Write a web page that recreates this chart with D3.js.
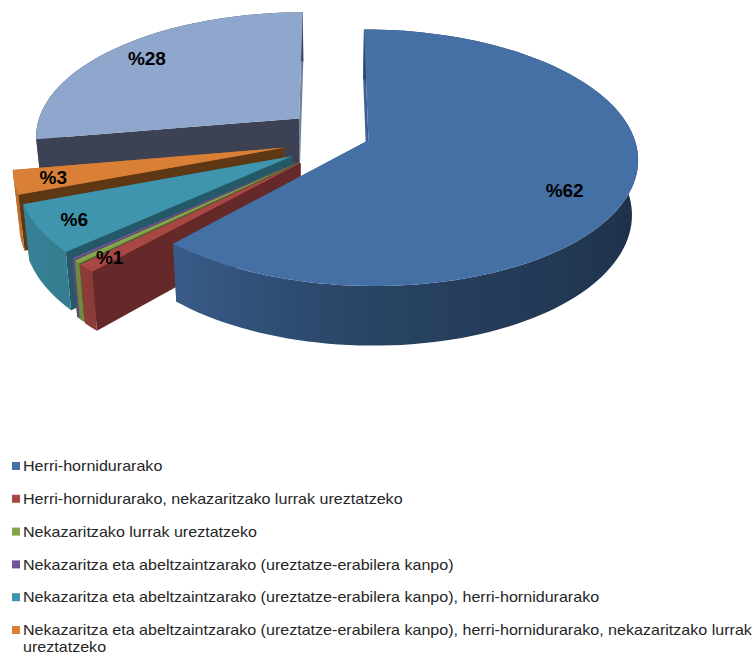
<!DOCTYPE html>
<html>
<head>
<meta charset="utf-8">
<script src="https://cdn.jsdelivr.net/npm/d3@7"></script>
<style>
  html, body { margin: 0; padding: 0; background: #fff; }
  svg { display: block; }
</style>
</head>
<body>
<div id="chart"></div>
<script>
// values, in pie order (clockwise from 12 o'clock)
const shares = [62.4, 1, 0.4, 0.2, 6, 3, 28];
const valueLabels = ["%62", "%1", "", "", "%6", "%3", "%28"];
const legendNames = [
    "Herri-hornidurarako",
    "Herri-hornidurarako, nekazaritzako lurrak ureztatzeko",
    "Nekazaritzako lurrak ureztatzeko",
    "Nekazaritza eta abeltzaintzarako (ureztatze-erabilera kanpo)",
    "Nekazaritza eta abeltzaintzarako (ureztatze-erabilera kanpo), herri-hornidurarako",
    ["Nekazaritza eta abeltzaintzarako (ureztatze-erabilera kanpo), herri-hornidurarako, nekazaritzako lurrak", "ureztatzeko"]
];

const topColors = ["#4470a6", "#a84744", "#86a44a", "#6f5597", "#3f95ad", "#d98036", "#8fa6cd"];
const sideColors = ["#3a5f8f", "#652929", "#506230", "#43335b", "#245a68", "#5e3815", "#3c4254"];

const width = 756;
const height = 655;

// view of the tilted pie
const view = { cx: 330, cy: 139, a: 266, b: 125.6, persp: 0.135, depth: 54, shrink: 0.02 };
const pullX = [0.155, 0.155, 0.155, 0.155, 0.165, 0.175, 0.155];
const pullY = [0.03, 0.26, 0.26, 0.26, 0.26, 0.26, 0.26]; // the big slice barely moves up or down
const labelRadius = [0.755, 0.9, 0, 0, 0.87, 0.86, 0.83];
const labelNudgeY = [14, 0, 0, 0, 0, 0, 0];

const svg = d3.select("#chart").append("svg")
    .attr("width", width)
    .attr("height", height)
    .attr("viewBox", `0 0 ${width} ${height}`)
    .style("font-family", "'Liberation Sans', Arial, sans-serif");

const defs = svg.append("defs");

function project(x, y, z) {
    const w = 1 - view.persp * y;
    const s = 1 - view.shrink * z;
    return [
        view.cx + view.a * x / w * s,
        view.cy + view.b * y / w * s + view.depth * z / w
    ];
}

const slices = d3.pie().sort(null).value(d => d)(shares).map((d, i) => {
    const mid = (d.startAngle + d.endAngle) / 2;
    return {
        i,
        start: d.startAngle,
        end: d.endAngle,
        mid,
        ox: pullX[i] * Math.sin(mid),
        oy: -pullY[i] * Math.cos(mid)
    };
});

function onSlice(s, r, angle, z) {
    return project(s.ox + r * Math.sin(angle), s.oy - r * Math.cos(angle), z);
}

const line = d3.line();
const step = Math.PI / 90;
const toRad = Math.PI / 180;

// how far the round wall falls to black, by clock angle of the wall
const wallShade = d3.scaleLinear()
    .domain([90, 180, 223, 260])
    .range([0.62, 0.4, 0.17, 0.12])
    .clamp(true);

function arcAngles(s) {
    const n = Math.max(2, Math.ceil((s.end - s.start) / step));
    return d3.range(n + 1).map(k => s.start + (s.end - s.start) * k / n);
}

// left to right gradient along the part of the round wall we can see
function wallFill(s) {
    if (s.i === 6) return sideColors[6]; // no round wall shows on the back slice
    const seen = arcAngles(s).filter(a => a >= 90 * toRad && a <= 270 * toRad).reverse();
    const xs = seen.map(a => onSlice(s, 1, a, 0)[0]);
    const x0 = d3.min(xs);
    const x1 = d3.max(xs);
    const pos = d3.scaleLinear().domain([x0, x1]).range([0, 1]);
    const id = "wall" + s.i;
    const grad = defs.append("linearGradient")
        .attr("id", id)
        .attr("gradientUnits", "userSpaceOnUse")
        .attr("x1", x0).attr("x2", x1)
        .attr("y1", 0).attr("y2", 0);
    grad.selectAll("stop")
        .data(seen)
        .join("stop")
        .attr("offset", a => pos(onSlice(s, 1, a, 0)[0]))
        .attr("stop-color", a => d3.interpolateRgb(topColors[s.i], "#000")(wallShade(a / toRad)));
    return `url(#${id})`;
}

// painted back to front, the big slice comes last
const order = [6, 5, 4, 3, 2, 1, 0];
const g = svg.append("g");

order.forEach(idx => {
    const s = slices[idx];
    const sg = g.append("g");
    const angles = arcAngles(s);

    // closing wall
    sg.append("path")
        .attr("d", line([
            onSlice(s, 0, s.end, 0), onSlice(s, 1, s.end, 0),
            onSlice(s, 1, s.end, 1), onSlice(s, 0, s.end, 1)
        ]) + "Z")
        .attr("fill", d3.interpolateRgb(topColors[idx], "#000")(0.22));

    // opening wall
    sg.append("path")
        .attr("d", line([
            onSlice(s, 0, s.start, 0), onSlice(s, 1, s.start, 0),
            onSlice(s, 1, s.start, 1), onSlice(s, 0, s.start, 1)
        ]) + "Z")
        .attr("fill", sideColors[idx]);

    // round wall
    const rim = angles.map(a => onSlice(s, 1, a, 0));
    const foot = angles.slice().reverse().map(a => onSlice(s, 1, a, 1));
    sg.append("path")
        .attr("d", line(rim.concat(foot)) + "Z")
        .attr("fill", wallFill(s));

    // top face
    sg.append("path")
        .attr("d", line([onSlice(s, 0, s.start, 0)].concat(rim)) + "Z")
        .attr("fill", topColors[idx]);
});

// value labels
svg.append("g").selectAll("text")
    .data(slices.filter(s => valueLabels[s.i]))
    .join("text")
    .attr("x", s => onSlice(s, labelRadius[s.i], s.mid, 0)[0])
    .attr("y", s => onSlice(s, labelRadius[s.i], s.mid, 0)[1] + labelNudgeY[s.i])
    .attr("dy", "0.36em")
    .attr("text-anchor", "middle")
    .attr("font-size", 19)
    .attr("font-weight", "bold")
    .attr("fill", "#000")
    .text(s => valueLabels[s.i]);

// legend
const legendY = d3.scalePoint()
    .domain(d3.range(legendNames.length))
    .range([466, 630]);

const legend = svg.append("g").selectAll("g")
    .data(legendNames)
    .join("g")
    .attr("transform", (d, i) => `translate(0,${legendY(i)})`);

legend.append("rect")
    .attr("x", 12)
    .attr("y", -4)
    .attr("width", 8)
    .attr("height", 8)
    .attr("fill", (d, i) => topColors[i]);

// the legend type in the picture is wider than it is tall
legend.append("text")
    .attr("transform", "translate(23,0) scale(1.133,1)")
    .attr("dy", "0.36em")
    .attr("font-size", 14.2)
    .attr("fill", "#262626")
    .selectAll("tspan")
    .data(d => [].concat(d))
    .join("tspan")
    .attr("x", 0)
    .attr("dy", (d, i) => i ? 17 : null)
    .text(d => d);
</script>
</body>
</html>
